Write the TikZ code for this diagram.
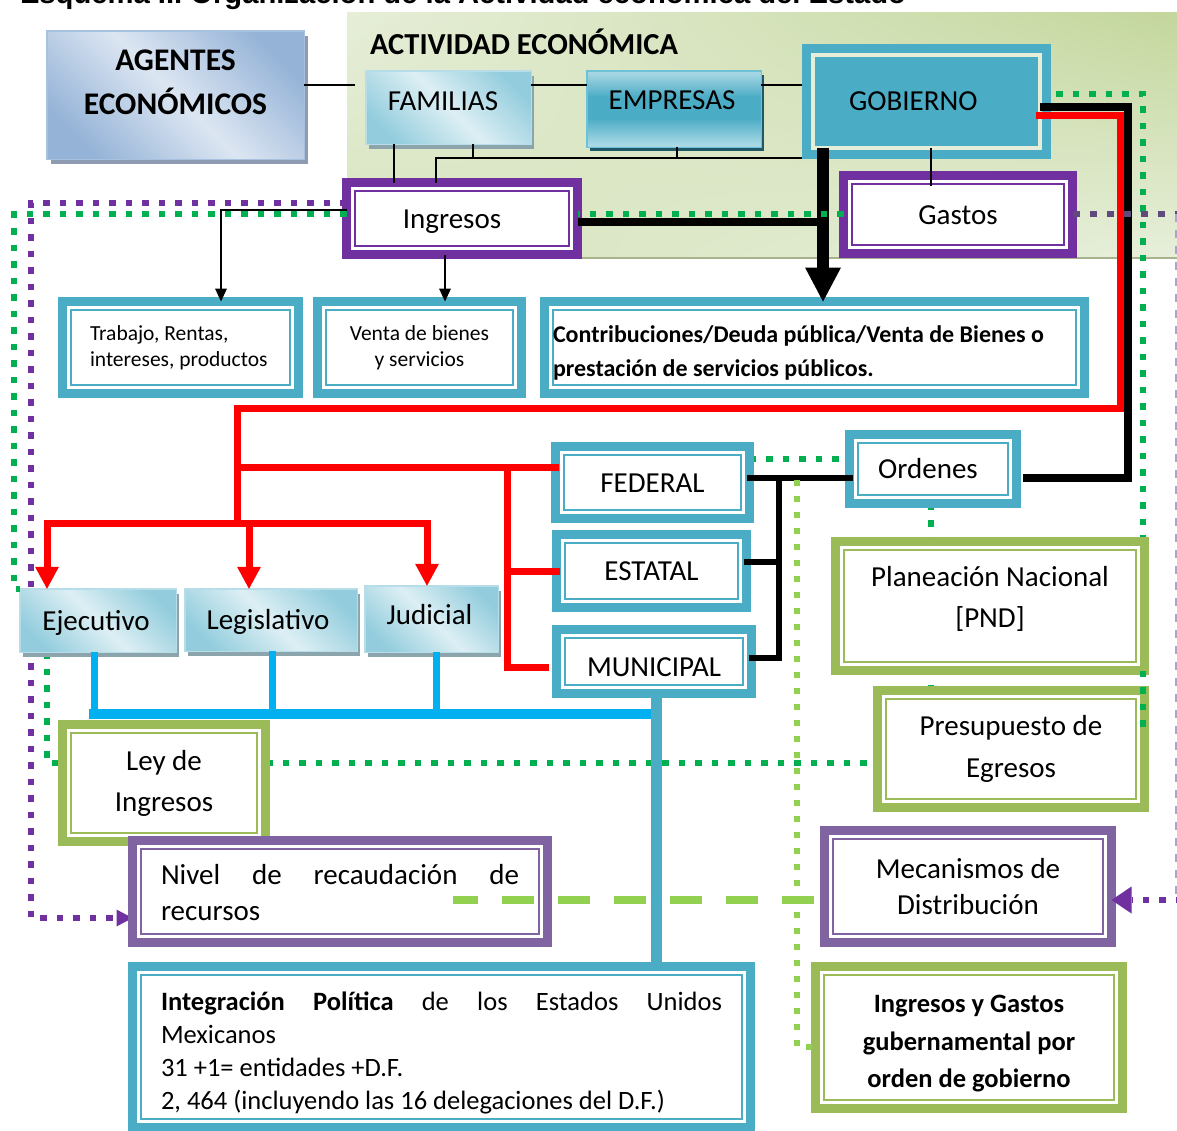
\documentclass[tikz,border=0pt]{standalone}
\usepackage{fontspec}
\setmainfont{Carlito}
\newfontfamily\titlefont{Liberation Sans}
\usetikzlibrary{arrows.meta,shadows,shadings}
\pgfdeclarelayer{panel}
\pgfdeclarelayer{bg}
\pgfsetlayers{panel,bg,main}
\frenchspacing

\definecolor{cTeal}{HTML}{4BACC6}
\definecolor{cPur}{HTML}{7030A0}
\definecolor{cPurB}{HTML}{8064A2}
\definecolor{cOli}{HTML}{9BBB59}
\definecolor{cGrn}{HTML}{00B050}
\definecolor{cLGrn}{HTML}{92D050}
\definecolor{cSky}{HTML}{00B0F0}
\definecolor{cRed}{HTML}{FF0000}
\definecolor{cGPur}{HTML}{604A7B}
\definecolor{cLav}{HTML}{B3A2C7}
\definecolor{aqDark}{HTML}{93CDDD}
\definecolor{aqLight}{HTML}{DDEFF4}
\definecolor{aqBorder}{HTML}{B7DEE8}
\definecolor{aqShadow}{HTML}{8CA4AC}
\definecolor{agDark}{HTML}{95B3D7}
\definecolor{agLight}{HTML}{DCE6F2}
\definecolor{agBorder}{HTML}{A9C1E0}
\definecolor{agShadow}{HTML}{8E9BB0}
\definecolor{empTop}{HTML}{A3D5E2}
\definecolor{empBot}{HTML}{A8D8E4}
\definecolor{empBorder}{HTML}{6DC2D6}
\definecolor{empShadow}{HTML}{205867}
\definecolor{gobGap}{HTML}{E6EDD9}
\definecolor{panUL}{HTML}{E6EED8}
\definecolor{panUR}{HTML}{C3D69B}
\definecolor{panLL}{HTML}{D7E4BE}
\definecolor{panLR}{HTML}{E7EFDB}
\definecolor{panShadow}{HTML}{A6B38C}

\pgfdeclarehorizontalshading{aqsh}{100bp}{color(0bp)=(aqDark); color(24bp)=(aqDark); color(50bp)=(aqLight); color(76bp)=(aqDark); color(100bp)=(aqDark)}
\pgfdeclarehorizontalshading{agsh}{100bp}{color(0bp)=(agDark); color(24bp)=(agDark); color(50bp)=(agLight); color(76bp)=(agDark); color(100bp)=(agDark)}
\pgfdeclareverticalshading{empsh}{100bp}{color(0bp)=(empBot); color(27bp)=(empBot); color(44bp)=(cTeal); color(58bp)=(cTeal); color(73bp)=(empTop); color(100bp)=(empTop)}

% framed box: style, name, x1, y1, x2, y2 (outer edges), text
\newcommand\fbx[7]{\node[#1, minimum width={(#5-#3-9)*1pt}, minimum height={(#6-#4-9)*1pt}] (#2) at ({(#3+#5)/2},{(#4+#6)/2}) {\spaceskip=0pt \xspaceskip=0pt\relax #7};}
% shaded box with a thin border
\newcommand\gbx[7]{\node[#1, minimum width={(#5-#3-1.5)*1pt}, minimum height={(#6-#4-1.5)*1pt}] (#2) at ({(#3+#5)/2},{(#4+#6)/2}) {\spaceskip=0pt \xspaceskip=0pt\relax #7};}
\newcommand\liftup[2]{\raisebox{#1}[\height][\depth]{#2}}

\tikzset{
  every node/.style={outer sep=0pt, inner sep=0pt},
  frm/.style={draw=#1, line width=9pt, fill=white, align=center,
    path picture={\draw[#1, line width=1.8pt]
      ([shift={(8.4pt,-8.4pt)}]path picture bounding box.north west) rectangle
      ([shift={(-8.4pt,8.4pt)}]path picture bounding box.south east);}},
  bigf/.style={font=\fontsize{29}{35}\selectfont},
  one/.style={text height=19pt, text depth=0pt},
  aqbox/.style={shade, shading=aqsh, shading angle=45, draw=aqBorder, line width=1.5pt,
    drop shadow={shadow xshift=3pt, shadow yshift=-5pt, fill=aqShadow, opacity=1}},
  agbox/.style={shade, shading=agsh, shading angle=45, draw=agBorder, line width=1.5pt,
    drop shadow={shadow xshift=4pt, shadow yshift=-5pt, fill=agShadow, opacity=1}},
  empbox/.style={shade, shading=empsh, draw=empBorder, line width=1.5pt,
    drop shadow={shadow xshift=3pt, shadow yshift=-4pt, fill=empShadow, opacity=1}},
  gobbox/.style={fill=cTeal, draw=cTeal, line width=9pt, double=gobGap, double distance=4pt},
  panelbox/.style={shade, upper left=panUL, upper right=panUR, lower left=panLL, lower right=panLR,
    drop shadow={shadow xshift=0pt, shadow yshift=-3pt, fill=panShadow, opacity=1}},
  thinln/.style={draw=black, line width=1.3pt},
  thinarr/.style={thinln, -{Triangle[width=12pt,length=13pt,line width=0pt]}},
  thickblk/.style={draw=black, line width=8pt},
  hugearr/.style={draw=black, line width=12pt, -{Triangle[width=36pt,length=34pt,line width=0pt]}},
  redln/.style={draw=cRed, line width=7pt, line cap=rect},
  redarr/.style={draw=cRed, line width=7pt, -{Triangle[width=24pt,length=22pt,line width=0pt]}},
  blkmid/.style={draw=black, line width=6pt, line cap=rect},
  skyln/.style={draw=cSky, line width=7pt},
  tealln/.style={draw=cTeal, line width=11pt},
  gdots/.style={draw=cGrn, line width=6.5pt, dash pattern=on 6.5pt off 10pt},
  pdots/.style={draw=cPur, line width=6.5pt, dash pattern=on 6.5pt off 10pt},
  gpdots/.style={draw=cGPur, line width=6pt, dash pattern=on 7pt off 10pt},
  lgdots/.style={draw=cLGrn, line width=6pt, dash pattern=on 6pt off 10pt},
  lgdash/.style={draw=cLGrn, line width=8pt, dash pattern=on 32pt off 24pt, dash phase=45.5pt},
  lavdash/.style={draw=cLav, line width=2pt, dash pattern=on 8pt off 8pt},
}

\begin{document}
\begin{tikzpicture}[x=1pt,y=-1pt]
\useasboundingbox (0,0) rectangle (1177,1130);

% heading (its upper part lies above the page)
\node[anchor=base west, font={\titlefont\bfseries\fontsize{29.2}{30}\selectfont}] (title) at (20,3)
  {Esquema II. Organización de la Actividad económica del Estado};

% economic activity panel
\begin{pgfonlayer}{panel}
\node[panelbox, minimum width=840pt, minimum height=244pt, anchor=north west] (panel) at (347,12) {};
\node[anchor=base west, font=\bfseries\fontsize{30.5}{32}\selectfont] (act) at (370,54) {ACTIVIDAD ECONÓMICA};
\end{pgfonlayer}

% agents
\gbx{agbox, font=\bfseries\fontsize{31.5}{44}\selectfont}{agentes}{46}{30}{305}{160}
  {\liftup{11pt}{\begin{tabular}{@{}c@{}}AGENTES\\ECONÓMICOS\end{tabular}}}
\gbx{aqbox, bigf, one}{fam}{365}{70}{532}{145}{\liftup{7pt}{\hspace*{-11pt}FAMILIAS}}
\gbx{empbox, bigf, one}{emp}{586}{70}{762}{148}{\liftup{9pt}{\hspace*{-4pt}EMPRESAS}}
\node[gobbox, bigf, one, minimum width=226.5pt, minimum height=92.5pt] (gob) at (926.25,101.25)
  {\hspace*{-26pt}GOBIERNO};

% income and spending
\fbx{frm=cPur, bigf, one}{ing}{342}{178}{582}{259}{\hspace*{-20pt}Ingresos}
\fbx{frm=cPur, bigf, one}{gas}{839}{171}{1077}{258}{Gastos}

\fbx{frm=cTeal, font=\fontsize{21.5}{26}\selectfont, text width=181pt, align=left}{trab}{58}{297}{303}{398}
  {Trabajo, Rentas,\\intereses, productos}
\fbx{frm=cTeal, font=\fontsize{21.5}{26}\selectfont}{venta}{313}{297}{526}{398}
  {Venta de bienes\\y servicios}
\fbx{frm=cTeal, font=\bfseries\fontsize{24}{34}\selectfont}{contrib}{540}{297}{1089}{398}
  {\liftup{-5pt}{\makebox[523pt][l]{\begin{tabular}{@{}l@{}}Contribuciones/Deuda pública/Venta de Bienes o\\prestación de servicios públicos.\end{tabular}}}}

% orders of government
\fbx{frm=cTeal, bigf, one}{ord}{845}{430}{1021}{508}{\hspace*{-10pt}Ordenes}
\fbx{frm=cTeal, bigf, one}{fed}{551}{442}{754}{523}{FEDERAL}
\fbx{frm=cTeal, bigf, one}{est}{552}{530}{751}{612}{ESTATAL}
\fbx{frm=cTeal, bigf, one}{mun}{552}{625}{756}{698}{\liftup{-5pt}{MUNICIPAL}}

% powers
\gbx{aqbox, bigf, one}{ejec}{19}{588}{177}{653}{\hspace*{-4pt}Ejecutivo}
\gbx{aqbox, bigf, one}{leg}{184}{588}{358}{652}{\hspace*{-6pt}Legislativo}
\gbx{aqbox, bigf, one}{jud}{364}{585}{499}{653}{\liftup{4pt}{\hspace*{-4pt}Judicial}}

% planning, budget and collection
\fbx{frm=cOli, font=\fontsize{29}{41}\selectfont}{plan}{831}{537}{1149}{675}
  {\liftup{7pt}{\begin{tabular}{@{}c@{}}Planeación Nacional\\{}[PND]\end{tabular}}}
\fbx{frm=cOli, font=\fontsize{29}{42}\selectfont}{pres}{873}{686}{1149}{812}{Presupuesto de\\Egresos}
\fbx{frm=cOli, font=\fontsize{29}{41}\selectfont}{ley}{58}{720}{270}{846}{Ley de\\Ingresos}
\fbx{frm=cPurB, font=\fontsize{29}{36}\selectfont}{niv}{128}{836}{552}{947}
  {\liftup{-4pt}{\begin{tabular}{@{}l@{}}\makebox[358pt]{Nivel\hfill de\hfill recaudación\hfill de}\\recursos\end{tabular}}}
\fbx{frm=cPurB, font=\fontsize{29}{36}\selectfont}{mec}{820}{826}{1116}{947}{Mecanismos de\\Distribución}
\fbx{frm=cOli, font=\bfseries\fontsize{26.5}{37.5}\selectfont}{igg}{811}{962}{1127}{1113}
  {\liftup{-5pt}{\begin{tabular}{@{}c@{}}Ingresos y Gastos\\gubernamental por\\orden de gobierno\end{tabular}}}
\fbx{frm=cTeal, font=\fontsize{26.5}{33}\selectfont}{integ}{128}{962}{755}{1132}
  {\liftup{-6pt}{\begin{tabular}{@{}l@{}}\makebox[561pt]{\textbf{Integración}\hfill\textbf{Política}\hfill de\hfill los\hfill Estados\hfill Unidos}\\
   Mexicanos\\31 +1= entidades +D.F.\\2, 464 (incluyendo las 16 delegaciones del D.F.)\end{tabular}}}

% dotted links running behind the boxes
\begin{pgfonlayer}{bg}
\draw[pdots, -{Triangle[width=17pt,length=16pt,line width=0pt]}] (ing.west |- 0,203) -- (31,203) |- (niv.west |- 0,918);
\draw[gdots] (ejec.south -| 47,0) |- (pres.west |- 0,763);
\draw[gdots] (gob.east |- 0,94) -| (plan.north -| 1143,0);
\draw[gdots] (ord.south -| 931,0) -- (pres.north -| 931,0);
\draw[gdots] (fed.east |- 0,459) -- (ord.west |- 0,459);
\end{pgfonlayer}

% thin links between the agents
\draw[thinln, shorten >=11pt] (agentes.east |- 0,85) -- (fam.west |- 0,85);
\draw[thinln] (fam.east |- 0,85) -- (emp.west |- 0,85);
\draw[thinln, shorten >=11pt] (emp.east |- 0,85) -- (gob.west |- 0,85);
\draw[thinln] (fam.south -| 394,0) -- (ing.north -| 394,0);
\draw[thinln] (fam.south -| 473,0) -- (473,158);
\draw[thinln] (emp.south -| 677,0) -- (677,158);
\draw[thinln, shorten >=11pt] (ing.north -| 436,0) -- (436,158) -- (gob.west |- 0,158);
\draw[thinln, shorten >=-10pt] (gob.south -| 931,0) -- (gas.north -| 931,0);

% sources of income
\draw[thinarr] (ing.west |- 0,210) -| (trab.north -| 221,0);
\draw[thinarr] (ing.south -| 445,0) -- (venta.north -| 445,0);
\draw[thickblk] (ing.east |- 0,222) -- (823,222);
\draw[hugearr] (gob.south -| 823,0) -- (contrib.north -| 823,0);

% government to the orders
\draw[thickblk, shorten >=6.5pt] (gob.east |- 0,107) -| (1128,478) -- (ord.east |- 0,478);

% government to the powers and orders
\draw[redln] (gob.east |- 0,115) -| (1120,408) -- (237,408) -- (237,523);
\draw[redln] (47,523) -- (427,523);
\draw[redarr] (47,523) -- (ejec.north -| 47,0);
\draw[redarr] (249,523) -- (leg.north -| 249,0);
\draw[redarr] (427,523) -- (jud.north -| 427,0);
\draw[redln] (237,467) -- (fed.west |- 0,467);
\draw[redln] (507,467) -- (507,667);
\draw[redln] (507,571) -- (est.west |- 0,571);
\draw[redln, shorten >=11pt] (507,667) -- (mun.west |- 0,667);

% orders bracket
\draw[blkmid] (fed.east |- 0,478) -- (ord.west |- 0,478);
\draw[blkmid] (779,478) -- (779,658);
\draw[blkmid] (est.east |- 0,562) -- (779,562);
\draw[blkmid] (mun.east |- 0,658) -- (779,658);

% powers to the political integration
\draw[skyln] (ejec.south -| 94,0) -- (94,714);
\draw[skyln] (leg.south -| 272,0) -- (272,714);
\draw[skyln] (jud.south -| 436,0) -- (436,714);
\draw[draw=cSky, line width=10pt, line cap=rect] (94,714) -- (656,714);
\draw[tealln] (mun.south -| 656,0) -- (integ.north -| 656,0);

% light green links
\coordinate (tap) at (797,480);
\draw[lgdots] (tap) |- (igg.west |- 0,1047);
\draw[lgdash] (mec.west |- 0,900) -- (453,900);

% green dotted links drawn on top
\draw[gdots] (gas.west |- 0,214) -- (ing.east |- 0,214);
\draw[gdots] (ing.west |- 0,214) -- (14,214) |- (ejec.north west);
\draw[gdots] (plan.south -| 1143,0) -- (1143,735);

% spending to the distribution mechanisms, along the right edge
\coordinate (edgetop) at (1176,214);
\coordinate (edgebot) at (1176,900);
\draw[gpdots] (gas.east |- 0,214) -- (1177,214);
\draw[lavdash] (edgetop) -- (edgebot);
\draw[pdots, -{Triangle[width=27pt,length=20pt,line width=0pt]}] (1182,900) -- (mec.east |- 0,900);
\end{tikzpicture}
\end{document}
